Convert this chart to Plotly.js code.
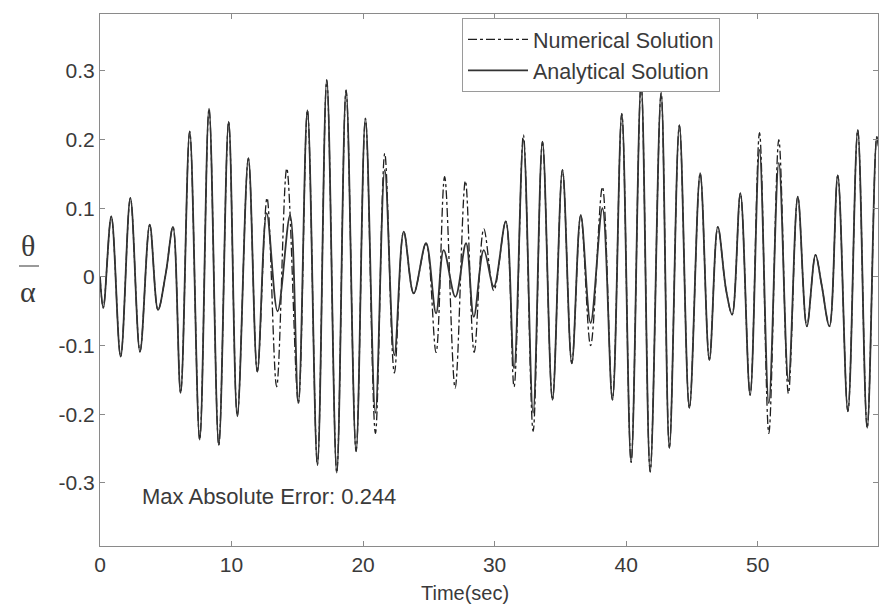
<!DOCTYPE html>
<html>
<head>
<meta charset="utf-8">
<script src="https://cdn.plot.ly/plotly-3.0.1.min.js"></script>
<style>html,body{margin:0;padding:0;background:#fff;}#chart{width:880px;height:607px;}</style>
</head>
<body>
<div id="chart"></div>
<script>
// Analytical solution: extremes (time in sec, value theta/alpha)
const analyticalT = [0, 0.25, 0.86, 1.57, 2.31, 3.04, 3.78, 4.41, 5.0, 5.55, 6.13, 6.82, 7.58, 8.29, 9.03, 9.78, 10.44, 11.28, 11.96, 12.67, 13.5, 14.45, 15.08, 15.77, 16.53, 17.24, 18.0, 18.71, 19.47, 20.18, 20.94, 21.65, 22.38, 23.09, 23.85, 24.79, 25.55, 26.13, 27.02, 27.83, 28.42, 29.18, 29.94, 30.85, 31.48, 32.19, 32.93, 33.64, 34.4, 35.16, 35.87, 36.55, 37.3, 38.2, 38.96, 39.67, 40.38, 41.14, 41.83, 42.66, 43.29, 44.05, 44.81, 45.63, 46.33, 46.97, 47.6, 48.06, 48.69, 49.43, 50.14, 50.85, 51.61, 52.34, 53.05, 53.74, 54.4, 54.85, 55.46, 56.09, 56.86, 57.61, 58.33, 59.06, 59.2];
const analyticalV = [0, -0.045, 0.088, -0.116, 0.115, -0.109, 0.076, -0.048, 0.005, 0.073, -0.169, 0.212, -0.237, 0.245, -0.245, 0.226, -0.203, 0.173, -0.138, 0.093, -0.05, 0.09, -0.184, 0.243, -0.274, 0.287, -0.285, 0.272, -0.254, 0.231, -0.198, 0.156, -0.114, 0.066, -0.024, 0.049, -0.053, 0.039, -0.029, 0.049, -0.058, 0.039, -0.014, 0.081, -0.133, 0.2, -0.198, 0.197, -0.179, 0.156, -0.126, 0.09, -0.067, 0.1, -0.179, 0.238, -0.27, 0.282, -0.284, 0.268, -0.249, 0.221, -0.191, 0.151, -0.121, 0.073, -0.019, -0.055, 0.122, -0.172, 0.185, -0.184, 0.166, -0.152, 0.117, -0.072, 0.032, -0.01, -0.072, 0.148, -0.196, 0.214, -0.22, 0.204, 0.19];

// Numerical solution: extremes
const numericalT = [0, 0.25, 0.86, 1.57, 2.31, 3.04, 3.78, 4.41, 5.0, 5.55, 6.13, 6.82, 7.58, 8.29, 9.03, 9.78, 10.44, 11.28, 11.96, 12.7, 13.43, 14.2, 15.08, 15.77, 16.53, 17.24, 18.0, 18.71, 19.47, 20.18, 20.94, 21.65, 22.38, 23.09, 23.85, 24.79, 25.55, 26.2, 27.0, 27.78, 28.45, 29.18, 29.94, 30.85, 31.48, 32.19, 32.93, 33.64, 34.4, 35.16, 35.87, 36.55, 37.3, 38.2, 38.96, 39.67, 40.38, 41.14, 41.83, 42.66, 43.29, 44.05, 44.81, 45.63, 46.33, 46.97, 47.6, 48.06, 48.69, 49.43, 50.14, 50.85, 51.61, 52.34, 53.05, 53.74, 54.4, 54.85, 55.46, 56.09, 56.86, 57.61, 58.33, 59.06, 59.2];
const numericalV = [0, -0.045, 0.088, -0.116, 0.115, -0.109, 0.076, -0.048, 0.005, 0.073, -0.169, 0.212, -0.237, 0.245, -0.245, 0.226, -0.203, 0.173, -0.138, 0.115, -0.16, 0.158, -0.184, 0.243, -0.274, 0.287, -0.285, 0.272, -0.254, 0.231, -0.228, 0.18, -0.14, 0.066, -0.024, 0.049, -0.11, 0.146, -0.162, 0.14, -0.11, 0.07, -0.02, 0.081, -0.16, 0.207, -0.225, 0.197, -0.179, 0.156, -0.126, 0.09, -0.1, 0.131, -0.179, 0.238, -0.27, 0.282, -0.284, 0.268, -0.249, 0.221, -0.191, 0.151, -0.121, 0.073, -0.019, -0.055, 0.122, -0.172, 0.21, -0.228, 0.2, -0.17, 0.117, -0.072, 0.032, -0.01, -0.072, 0.148, -0.196, 0.214, -0.22, 0.204, 0.19];

const xTickVals = [0, 10, 20, 30, 40, 50];
const xTickText = ["0", "10", "20", "30", "40", "50"];
const yTickVals = [-0.3, -0.2, -0.1, 0, 0.1, 0.2, 0.3];
const yTickText = ["-0.3", "-0.2", "-0.1", "0", "0.1", "0.2", "0.3"];

const seriesNames = ["Numerical Solution", "Analytical Solution"];
const errorText = "Max Absolute Error: 0.244";
const xTitle = "Time(sec)";

const FONT = "Liberation Sans, Arial, Helvetica, sans-serif";
const TXT = "#3a3a3a";
const AX = "#8a8a8a";

const traces = [
  {x: numericalT, y: numericalV, name: seriesNames[0], mode: "lines",
   line: {color: "#1e1e1e", width: 1.3, dash: "dashdot", shape: "spline", smoothing: 1}},
  {x: analyticalT, y: analyticalV, name: seriesNames[1], mode: "lines",
   line: {color: "#333333", width: 1.8, shape: "spline", smoothing: 1}}
];

const layout = {
  width: 880, height: 607,
  margin: {l: 100, r: 2, t: 14, b: 61},
  paper_bgcolor: "#fff", plot_bgcolor: "#fff",
  font: {family: FONT, size: 21, color: TXT},
  showlegend: true,
  legend: {x: 0.4653, y: 0.9925, xanchor: "left", yanchor: "top",
           bgcolor: "#fff", bordercolor: "#9a9a9a", borderwidth: 1,
           font: {family: FONT, size: 21.5, color: TXT}, itemwidth: 60, tracegroupgap: 0,
           entrywidth: 270, entrywidthmode: "pixels"},
  xaxis: {range: [0, 59.15], tickvals: xTickVals, ticktext: xTickText,
          ticks: "inside", ticklen: 5, tickcolor: AX, showline: true, linecolor: AX, linewidth: 1,
          mirror: "ticks", showgrid: false, zeroline: false, tickfont: {size: 21, color: TXT}},
  yaxis: {range: [-0.392, 0.383], tickvals: yTickVals, ticktext: yTickText,
          ticks: "inside", ticklen: 5, tickcolor: AX, showline: true, linecolor: AX, linewidth: 1,
          mirror: "ticks", showgrid: false, zeroline: false, tickfont: {size: 21, color: TXT}},
  annotations: [
    {xref: "x", yref: "y", x: 3.05, y: -0.32, xanchor: "left", yanchor: "middle",
     text: errorText, showarrow: false, font: {size: 22, color: TXT}},
    {xref: "paper", yref: "paper", x: 0.469, y: -0.088, xanchor: "center", yanchor: "middle",
     text: xTitle, showarrow: false, font: {size: 20, color: TXT}},
    {xref: "paper", yref: "paper", x: (28 - 100) / 778, y: (546 - 245) / 532, xanchor: "center", yanchor: "middle",
     text: "θ", showarrow: false, font: {family: "Liberation Serif, Times New Roman, serif", size: 30, color: TXT}},
    {xref: "paper", yref: "paper", x: (28 - 100) / 778, y: (546 - 291) / 532, xanchor: "center", yanchor: "middle",
     text: "α", showarrow: false, font: {family: "Liberation Serif, Times New Roman, serif", size: 30, color: TXT}}
  ],
  shapes: [
    {type: "line", xref: "paper", yref: "paper", x0: (19 - 100) / 778, x1: (39 - 100) / 778,
     y0: (546 - 266) / 532, y1: (546 - 266) / 532, line: {color: "#9a9a9a", width: 2}}
  ]
};

Plotly.newPlot("chart", traces, layout, {staticPlot: true, displayModeBar: false});
</script>
</body>
</html>
